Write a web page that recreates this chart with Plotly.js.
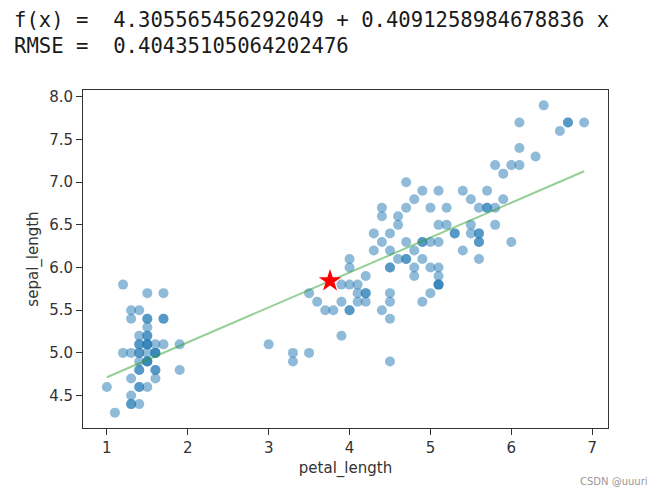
<!DOCTYPE html>
<html>
<head>
<meta charset="utf-8">
<script src="https://cdn.plot.ly/plotly-3.0.1.min.js"></script>
<style>
  html, body { margin: 0; padding: 0; background: #fff; }
  #plotDiv { width: 659px; height: 495px; }
</style>
</head>
<body>
<div id="plotDiv"></div>
<script>
// iris: petal_length (x) vs sepal_length (y)
var petal_length = [
  1.4,1.4,1.3,1.5,1.4,1.7,1.4,1.5,1.4,1.5,1.5,1.6,1.4,1.1,1.2,1.5,1.3,1.4,1.7,1.5,
  1.7,1.5,1.0,1.7,1.9,1.6,1.6,1.5,1.4,1.6,1.6,1.5,1.5,1.4,1.5,1.2,1.3,1.5,1.3,1.5,
  1.3,1.3,1.3,1.6,1.9,1.4,1.6,1.4,1.5,1.4,
  4.7,4.5,4.9,4.0,4.6,4.5,4.7,3.3,4.6,3.9,3.5,4.2,4.0,4.7,3.6,4.4,4.5,4.1,4.5,3.9,
  4.8,4.0,4.9,4.7,4.3,4.4,4.8,5.0,4.5,3.5,3.8,3.7,3.9,5.1,4.5,4.5,4.7,4.4,4.1,4.0,
  4.4,4.6,4.0,3.3,4.2,4.2,4.2,4.3,3.0,4.1,
  6.0,5.1,5.9,5.6,5.8,6.6,4.5,6.3,5.8,6.1,5.1,5.3,5.5,5.0,5.1,5.3,5.5,6.7,6.9,5.0,
  5.7,4.9,6.7,4.9,5.7,6.0,4.8,4.9,5.6,5.8,6.1,6.4,5.6,5.1,5.6,6.1,5.6,5.5,4.8,5.4,
  5.6,5.1,5.1,5.9,5.7,5.2,5.0,5.2,5.4,5.1
];
var sepal_length = [
  5.1,4.9,4.7,4.6,5.0,5.4,4.6,5.0,4.4,4.9,5.4,4.8,4.8,4.3,5.8,5.7,5.4,5.1,5.7,5.1,
  5.4,5.1,4.6,5.1,4.8,5.0,5.0,5.2,5.2,4.7,4.8,5.4,5.2,5.5,4.9,5.0,5.5,4.9,4.4,5.1,
  5.0,4.5,4.4,5.0,5.1,4.8,5.1,4.6,5.3,5.0,
  7.0,6.4,6.9,5.5,6.5,5.7,6.3,4.9,6.6,5.2,5.0,5.9,6.0,6.1,5.6,6.7,5.6,5.8,6.2,5.6,
  5.9,6.1,6.3,6.1,6.4,6.6,6.8,6.7,6.0,5.7,5.5,5.5,5.8,6.0,5.4,6.0,6.7,6.3,5.6,5.5,
  5.5,6.1,5.8,5.0,5.6,5.7,5.7,6.2,5.1,5.7,
  6.3,5.8,7.1,6.3,6.5,7.6,4.9,7.3,6.7,7.2,6.5,6.4,6.8,5.7,5.8,6.4,6.5,7.7,7.7,6.0,
  6.9,5.6,7.7,6.3,6.7,7.2,6.2,6.1,6.4,7.2,7.4,7.9,6.4,6.3,6.1,7.7,6.3,6.4,6.0,6.9,
  6.7,6.9,5.8,6.8,6.7,6.7,6.3,6.5,6.2,5.9
];

// fitted coefficients as printed above the chart
var intercept = 4.305565456292049;
var slope = 0.4091258984678836;
var rmse = 0.40435105064202476;

var xMin = Math.min.apply(null, petal_length);
var xMax = Math.max.apply(null, petal_length);
var lineX = [xMin, xMax];
var lineY = lineX.map(function(v) { return intercept + slope * v; });

var mean = function(a) { return a.reduce(function(s, v) { return s + v; }, 0) / a.length; };
var meanX = mean(petal_length);
var meanY = mean(sepal_length);

var points = {
  type: 'scatter',
  mode: 'markers',
  x: petal_length,
  y: sepal_length,
  marker: { size: 10, color: '#1f77b4', opacity: 0.5, line: { width: 0 } }
};

var fitLine = {
  type: 'scatter',
  mode: 'lines',
  x: lineX,
  y: lineY,
  line: { color: '#2ca02c', width: 2 },
  opacity: 0.5
};

var centre = {
  type: 'scatter',
  mode: 'markers',
  x: [meanX],
  y: [meanY],
  marker: { symbol: 'star', size: 17, color: '#ff0000', line: { width: 0 } }
};

var tickFont = { family: 'DejaVu Sans', size: 15, color: '#333' };
var monoFont = { family: 'DejaVu Sans Mono', size: 20.6, color: '#1a1a1a' };

var layout = {
  width: 659,
  height: 495,
  margin: { l: 83, r: 51, t: 90, b: 67 },
  paper_bgcolor: '#fff',
  plot_bgcolor: '#fff',
  showlegend: false,
  xaxis: {
    range: [0.705, 7.195],
    tickvals: [1, 2, 3, 4, 5, 6, 7],
    showgrid: false, zeroline: false,
    showline: true, mirror: true, linecolor: '#333', linewidth: 1,
    ticks: 'outside', ticklen: 6, tickcolor: '#333',
    tickfont: tickFont,
    title: { text: 'petal_length', font: tickFont, standoff: 6 }
  },
  yaxis: {
    range: [4.12, 8.08],
    tickvals: [4.5, 5.0, 5.5, 6.0, 6.5, 7.0, 7.5, 8.0],
    tickformat: '.1f',
    showgrid: false, zeroline: false,
    showline: true, mirror: true, linecolor: '#333', linewidth: 1,
    ticks: 'outside', ticklen: 6, tickcolor: '#333',
    tickfont: tickFont,
    title: { text: 'sepal_length', font: tickFont, standoff: 6 }
  },
  annotations: [
    {
      xref: 'paper', yref: 'paper', x: -0.135, y: 1.207,
      xanchor: 'left', yanchor: 'middle', showarrow: false,
      text: 'f(x) =  ' + intercept + ' + ' + slope + ' x',
      font: monoFont
    },
    {
      xref: 'paper', yref: 'paper', x: -0.135, y: 1.13,
      xanchor: 'left', yanchor: 'middle', showarrow: false,
      text: 'RMSE =  ' + rmse,
      font: monoFont
    },
    {
      xref: 'paper', yref: 'paper', x: 1.08, y: -0.157,
      xanchor: 'right', yanchor: 'middle', showarrow: false,
      text: 'CSDN @uuuri',
      font: { family: 'DejaVu Sans', size: 10, color: '#999' }
    }
  ]
};

Plotly.newPlot('plotDiv', [points, fitLine, centre], layout, { displayModeBar: false, staticPlot: true });
</script>
</body>
</html>
